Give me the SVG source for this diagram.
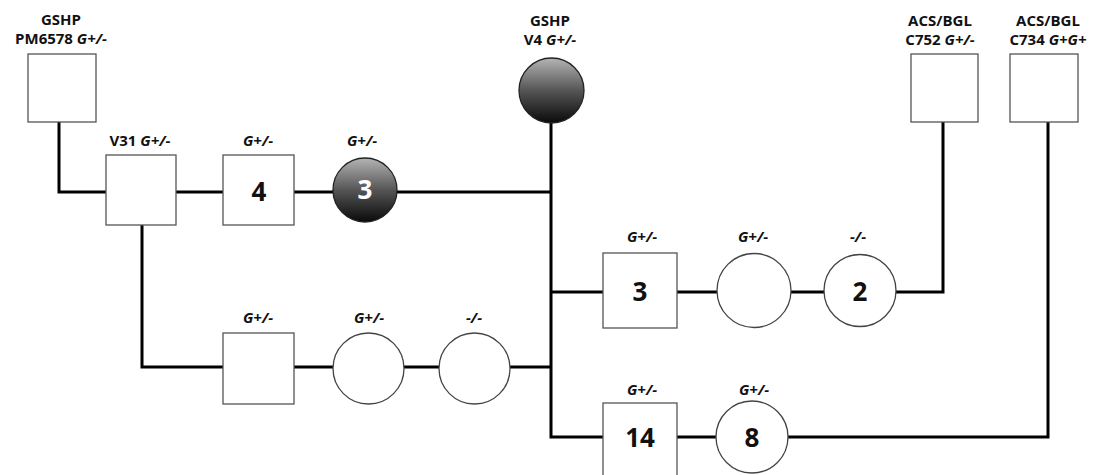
<svg xmlns="http://www.w3.org/2000/svg" width="1101" height="475" viewBox="0 0 1101 475">
<defs>
<linearGradient id="dark" x1="0" y1="0" x2="0" y2="1">
<stop offset="0" stop-color="#b4b4b4"/>
<stop offset="0.5" stop-color="#555"/>
<stop offset="1" stop-color="#0a0a0a"/>
</linearGradient>
<style>
.box{fill:#fff;stroke:#555;stroke-width:1.3}
.circ{fill:#fff;stroke:#444;stroke-width:1.3}
.dk{fill:url(#dark);stroke:#222;stroke-width:1.3}
.wire{fill:none;stroke:#000;stroke-width:3;stroke-linejoin:miter}
.lbl{font-family:"Open Sans","Liberation Sans",sans-serif;font-weight:bold;font-size:15px;fill:#111;text-anchor:middle}
.it{font-style:italic}
.num{font-family:"Open Sans","Liberation Sans",sans-serif;font-weight:bold;font-size:26px;fill:#111;text-anchor:middle}
</style>
</defs>
<rect width="1101" height="475" fill="#fff"/>
<g id="connectors">
<path class="wire" d="M59,122 V192 H106"/>
<path class="wire" d="M176,192 H223"/>
<path class="wire" d="M294,192 H333"/>
<path class="wire" d="M397,192 H551"/>
<path class="wire" d="M551,123 V437 H603"/>
<path class="wire" d="M551,292 H603"/>
<path class="wire" d="M677,292 H717"/>
<path class="wire" d="M791,292 H824"/>
<path class="wire" d="M896,292 H943 V122"/>
<path class="wire" d="M142,225 V367 H223"/>
<path class="wire" d="M294,367 H333"/>
<path class="wire" d="M404,367 H439"/>
<path class="wire" d="M510,367 H551"/>
<path class="wire" d="M677,437 H716"/>
<path class="wire" d="M788,437 H1048 V122"/>
</g>
<g id="n-pm6578">
<text class="lbl" x="61" y="25">GSHP</text>
<text class="lbl" x="61" y="44">PM6578 <tspan class="it">G+/-</tspan></text>
<rect class="box" x="28" y="54" width="68" height="68"/>
</g>
<g id="n-v31">
<text class="lbl" x="140" y="146">V31 <tspan class="it">G+/-</tspan></text>
<rect class="box" x="106" y="155" width="70" height="70"/>
</g>
<g id="n-box4">
<text class="lbl it" x="258" y="146">G+/-</text>
<rect class="box" x="223" y="155" width="71" height="70"/>
<text class="num" x="259" y="201">4</text>
</g>
<g id="n-circ3">
<text class="lbl it" x="362" y="146">G+/-</text>
<circle class="dk" cx="365" cy="190" r="32"/>
<text class="num" x="365" y="199" style="fill:#fff">3</text>
</g>
<g id="n-v4">
<text class="lbl" x="550" y="26">GSHP</text>
<text class="lbl" x="550" y="45">V4 <tspan class="it">G+/-</tspan></text>
<circle class="dk" cx="551.5" cy="90.5" r="32.5"/>
</g>
<g id="n-c752">
<text class="lbl" x="940" y="26">ACS/BGL</text>
<text class="lbl" x="940" y="45">C752 <tspan class="it">G+/-</tspan></text>
<rect class="box" x="911" y="54" width="67" height="68"/>
</g>
<g id="n-c734">
<text class="lbl" x="1048" y="26">ACS/BGL</text>
<text class="lbl" x="1048" y="45">C734 <tspan class="it">G+G+</tspan></text>
<rect class="box" x="1010" y="54" width="68" height="68"/>
</g>
<g id="n-box3">
<text class="lbl it" x="642" y="242">G+/-</text>
<rect class="box" x="603" y="253" width="74" height="75"/>
<text class="num" x="640" y="301">3</text>
</g>
<g id="n-circ-r1">
<text class="lbl it" x="753" y="242">G+/-</text>
<circle class="circ" cx="754" cy="290.5" r="37"/>
</g>
<g id="n-circ2">
<text class="lbl it" x="858" y="242">-/-</text>
<circle class="circ" cx="860" cy="290.5" r="36"/>
<text class="num" x="860" y="301">2</text>
</g>
<g id="n-box-bl">
<text class="lbl it" x="258" y="323">G+/-</text>
<rect class="box" x="223" y="333" width="71" height="71"/>
</g>
<g id="n-circ-bl1">
<text class="lbl it" x="369" y="323">G+/-</text>
<circle class="circ" cx="368.5" cy="368.5" r="35.5"/>
</g>
<g id="n-circ-bl2">
<text class="lbl it" x="474" y="323">-/-</text>
<circle class="circ" cx="474.5" cy="368.5" r="35.5"/>
</g>
<g id="n-box14">
<text class="lbl it" x="642" y="395">G+/-</text>
<rect class="box" x="603" y="403" width="74" height="76"/>
<text class="num" x="640" y="447">14</text>
</g>
<g id="n-circ8">
<text class="lbl it" x="754" y="395">G+/-</text>
<circle class="circ" cx="752" cy="437" r="36"/>
<text class="num" x="752" y="447">8</text>
</g>
</svg>
